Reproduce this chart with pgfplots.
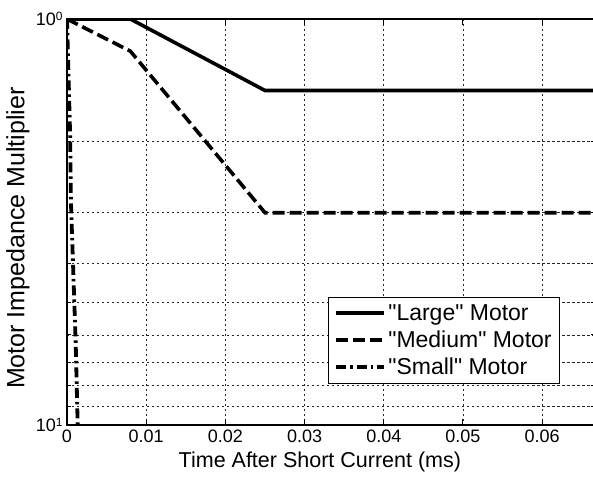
\documentclass[border=0pt]{standalone}
\usepackage{fontspec}
\setmainfont{Liberation Sans}[Ligatures=TeXOff]
\usepackage{pgfplots}
\pgfplotsset{compat=1.18}

\newcommand{\tenpow}[1]{10\raisebox{0.6ex}{\fontsize{12}{12}\selectfont #1}}

\begin{document}
\begin{tikzpicture}
\begin{axis}[
    name=ax,
    scale only axis,
    width=528pt, height=406pt,
    xmin=0, xmax=0.06667,
    ymode=log, ymin=1, ymax=10,
    y dir=reverse,
    xtick={0,0.01,0.02,0.03,0.04,0.05,0.06},
    xticklabels={0,0.01,0.02,0.03,0.04,0.05,0.06},
    scaled x ticks=false,
    ytick={1,10},
    yticklabels={\tenpow{0},\tenpow{1}},
    /pgf/number format/assume math mode=true,
    ticklabel style={font=\fontsize{18}{22}\selectfont},
    xticklabel style={yshift=-1pt},
    yticklabel style={xshift=-1pt},
    xmajorgrids, ymajorgrids, yminorgrids,
    major grid style={black!85, line width=0.8pt, dash pattern=on 2.5pt off 2.5pt},
    minor grid style={black!85, line width=0.8pt, dash pattern=on 2.5pt off 2.5pt},
    major tick length=6pt, minor tick length=4pt,
    tick style={black, line width=1pt},
    axis line style={line width=1.4pt},
    xlabel={Time After Short Current (ms)},
    ylabel={Motor Impedance Multiplier},
    label style={font=\fontsize{21.5}{24}\selectfont},
    xlabel style={at={(axis description cs:0.479,-0.092)}, anchor=center},
    ylabel style={at={(axis description cs:-0.093,0.46)}, anchor=center,
        font=\fontsize{25}{28}\selectfont},
    legend style={at={(axis description cs:0.934,0.315)}, anchor=north east,
        draw=black, line width=1pt, fill=white,
        font=\fontsize{23}{27}\selectfont, row sep=5pt,
        inner xsep=6pt, inner ysep=5pt},
    legend cell align=left,
    legend image code/.code={\draw[#1] (0pt,0pt) -- (48pt,0pt);},
]
\addplot[black, line width=3.6pt] coordinates {
    (0,1) (0.008,1) (0.025,1.5) (0.0667,1.5)};
\addplot[black, line width=3.6pt, dash pattern=on 12pt off 5pt] coordinates {
    (0,1) (0.008,1.2) (0.025,3) (0.0667,3)};
\addplot[black, line width=3.8pt, dash pattern=on 10pt off 4pt on 2.5pt off 4pt] coordinates {
    (0,1) (0.0004,1.95) (0.0005,2.84) (0.0011,6.3) (0.00135,10)};
\legend{"Large" Motor, "Medium" Motor, "Small" Motor}
\end{axis}
\pgfresetboundingbox
\path ([xshift=-67pt,yshift=-54pt]ax.south west) rectangle ([xshift=-2pt,yshift=19pt]ax.north east);
\end{tikzpicture}
\end{document}
